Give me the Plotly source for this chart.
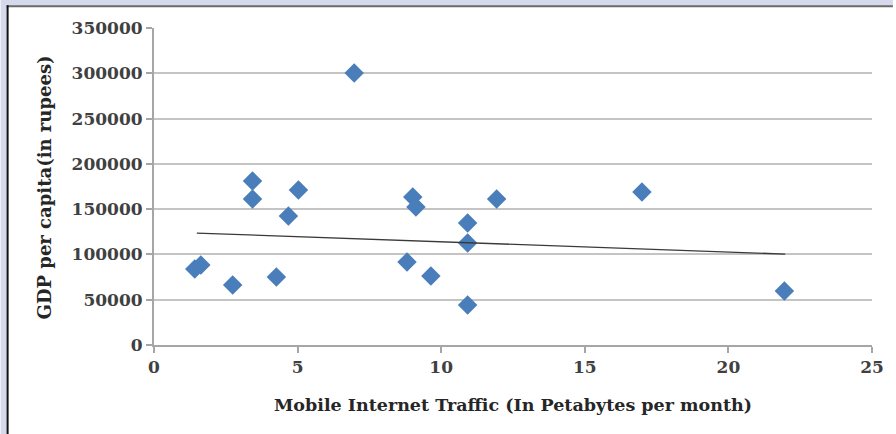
import plotly.graph_objects as go

traffic = [1.42, 1.63, 2.74, 3.43, 3.43, 4.68, 4.26, 5.03, 6.97, 9.01, 9.12, 8.81, 9.64, 10.92, 10.92, 10.92, 11.93, 16.99, 21.95]
gdp = [83900, 88300, 66200, 181000, 161200, 142400, 75000, 171000, 300200, 163400, 152300, 91600, 76200, 134600, 112600, 44200, 161200, 168900, 59600]
trend_x = [1.49, 21.98]
trend_y = [123600, 100400]
x_ticks = [0, 5, 10, 15, 20, 25]
y_ticks = [0, 50000, 100000, 150000, 200000, 250000, 300000, 350000]

W, H = 896, 434
L, R, T, B = 154, 21, 28, 89
pw, ph = W - L - R, H - T - B

def px(x):
    return (x - L) / pw

def py(y):
    return (H - B - y) / ph

font_fam = "DejaVu Serif"

fig = go.Figure()
fig.add_trace(go.Scatter(
    x=traffic, y=gdp, mode="markers",
    marker=dict(symbol="diamond", size=15, color="#4a7ebb", line=dict(width=0)),
    showlegend=False,
))
fig.add_trace(go.Scatter(
    x=trend_x, y=trend_y, mode="lines",
    line=dict(color="#3a3a3a", width=1.3),
    showlegend=False,
))

shapes = [
    dict(type="rect", xref="paper", yref="paper", x0=px(0), x1=px(W), y0=py(0), y1=py(H),
         fillcolor="#d6d9eb", line=dict(width=0), layer="below"),
    dict(type="rect", xref="paper", yref="paper", x0=px(7), x1=px(W + 5), y0=py(6), y1=py(H + 5),
         fillcolor="white", line=dict(width=0), layer="below"),
    dict(type="line", xref="paper", yref="paper", x0=px(6), x1=px(W), y0=py(6.3), y1=py(6.3),
         line=dict(color="#6a6a6a", width=2), layer="above"),
    dict(type="line", xref="paper", yref="paper", x0=px(7), x1=px(7), y0=py(5.3), y1=py(H),
         line=dict(color="#111111", width=2), layer="above"),
]

annotations = [
    dict(text="<b>GDP per capita(in rupees)</b>", xref="paper", yref="paper",
         x=px(44), y=py(187), textangle=-90, showarrow=False,
         xanchor="center", yanchor="middle",
         font=dict(family=font_fam, size=18, color="#262626")),
]

fig.update_layout(
    width=W, height=H,
    margin=dict(l=L, r=R, t=T, b=B),
    paper_bgcolor="white",
    plot_bgcolor="white",
    shapes=shapes,
    annotations=annotations,
    xaxis=dict(
        range=[0, 25], tickvals=x_ticks, ticktext=[str(v) for v in x_ticks],
        showgrid=False, zeroline=False,
        showline=True, linecolor="#a6a6a6", linewidth=2,
        ticks="outside", ticklen=6, tickcolor="#a6a6a6", tickwidth=2,
        tickfont=dict(family=font_fam, size=17, color="#404040", weight="bold"),
        title=dict(text="<b>Mobile Internet Traffic (In Petabytes per month)</b>",
                   font=dict(family=font_fam, size=17.5, color="#262626"), standoff=22),
        fixedrange=True,
    ),
    yaxis=dict(
        range=[0, 350000], tickvals=y_ticks, ticktext=[str(v) for v in y_ticks],
        showgrid=True, gridcolor="#c4c4c4", gridwidth=2, zeroline=False,
        showline=True, linecolor="#a6a6a6", linewidth=2,
        ticks="outside", ticklen=6, tickcolor="#a6a6a6", tickwidth=2,
        tickfont=dict(family=font_fam, size=17, color="#404040", weight="bold"),
        fixedrange=True,
    ),
)

fig.write_html("out.html", config={"displayModeBar": False},
               post_script="document.body.style.margin='0';document.body.style.padding='0';")
